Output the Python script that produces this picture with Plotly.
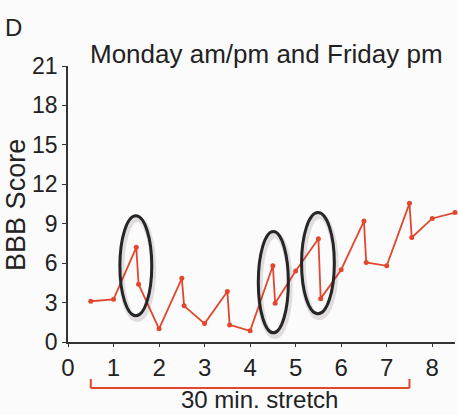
import plotly.graph_objects as go

# Data
x_vals = [0.5, 1.0, 1.5, 1.55, 2.0, 2.5, 2.55, 3.0, 3.5, 3.55, 4.0, 4.5, 4.55,
          5.0, 5.5, 5.55, 6.0, 6.5, 6.55, 7.0, 7.5, 7.55, 8.0, 8.5]
bbb_scores = [3.1, 3.25, 7.2, 4.4, 1.0, 4.85, 2.75, 1.4, 3.85, 1.3, 0.85, 5.8, 2.95,
              5.4, 7.85, 3.3, 5.5, 9.2, 6.05, 5.8, 10.55, 7.95, 9.4, 9.85]
x_ticks = [0, 1, 2, 3, 4, 5, 6, 7, 8]
y_ticks = [0, 3, 6, 9, 12, 15, 18, 21]

# Highlight ellipses (center x, center y, half-width, half-height) in data units
ellipse_cx = [1.49, 4.51, 5.49]
ellipse_cy = [5.8, 4.55, 6.0]
ellipse_rx = [0.35, 0.33, 0.36]
ellipse_ry = [3.8, 3.85, 3.85]

stretch_start, stretch_end = 0.5, 7.5

RED = "#E2472E"
FONT = "Liberation Sans, Arial, sans-serif"

fig = go.Figure()
fig.add_trace(go.Scatter(
    x=x_vals, y=bbb_scores, mode="lines+markers",
    line=dict(color=RED, width=1.8),
    marker=dict(color=RED, size=5),
    cliponaxis=False, showlegend=False,
))

shapes = []
for cx, cy, rx, ry in zip(ellipse_cx, ellipse_cy, ellipse_rx, ellipse_ry):
    # soft shadow
    shapes.append(dict(type="circle", xref="x", yref="y",
                       x0=cx - rx + 0.03, x1=cx + rx + 0.03, y0=cy - ry - 0.25, y1=cy + ry - 0.25,
                       line=dict(color="rgba(90,60,90,0.16)", width=6)))
    shapes.append(dict(type="circle", xref="x", yref="y",
                       x0=cx - rx, x1=cx + rx, y0=cy - ry, y1=cy + ry,
                       line=dict(color="#262626", width=3)))

# bracket for "30 min. stretch"
shapes.append(dict(type="line", xref="x", yref="paper", x0=stretch_start, x1=stretch_end,
                   y0=-0.167, y1=-0.167, line=dict(color=RED, width=2)))
shapes.append(dict(type="line", xref="x", yref="paper", x0=stretch_start, x1=stretch_start,
                   y0=-0.167, y1=-0.134, line=dict(color=RED, width=2)))
shapes.append(dict(type="line", xref="x", yref="paper", x0=stretch_end, x1=stretch_end,
                   y0=-0.167, y1=-0.134, line=dict(color=RED, width=2)))

annotations = [
    dict(text="D", xref="paper", yref="paper", x=-0.14, y=1.141, showarrow=False,
         xanchor="center", yanchor="middle", font=dict(size=24, color="#222", family=FONT)),
    dict(text="Monday am/pm and Friday pm", xref="paper", yref="paper", x=0.052, y=1.043,
         showarrow=False, xanchor="left", yanchor="middle",
         font=dict(size=26, color="#222", family=FONT)),
    dict(text="BBB Score", xref="paper", yref="paper", x=-0.133, y=0.495, textangle=-90,
         showarrow=False, xanchor="center", yanchor="middle",
         font=dict(size=27, color="#222", family=FONT)),
    dict(text="30 min. stretch", xref="x", yref="paper", x=4.2, y=-0.21,
         showarrow=False, xanchor="center", yanchor="middle", borderpad=0,
         font=dict(size=24, color="#222", family=FONT)),
]

fig.update_layout(
    width=458, height=415,
    margin=dict(l=68, r=3, t=66, b=73),
    paper_bgcolor="#FBFBFB", plot_bgcolor="#FBFBFB",
    shapes=shapes, annotations=annotations,
    xaxis=dict(range=[0, 8.5], tickvals=x_ticks, ticktext=[str(v) for v in x_ticks],
               showgrid=False, zeroline=False, showline=True, linecolor="#333", linewidth=1.5,
               ticks="outside", ticklen=3, tickcolor="#333",
               tickfont=dict(size=24, color="#222", family=FONT)),
    yaxis=dict(range=[0, 21], tickvals=y_ticks, ticktext=[str(v) for v in y_ticks],
               showgrid=False, zeroline=False, showline=True, linecolor="#333", linewidth=1.5,
               ticks="outside", ticklen=4, tickcolor="#333",
               tickfont=dict(size=23, color="#222", family=FONT)),
)

fig.write_html("out.html", config={"displayModeBar": False},
               post_script="document.body.style.margin='0px';")
